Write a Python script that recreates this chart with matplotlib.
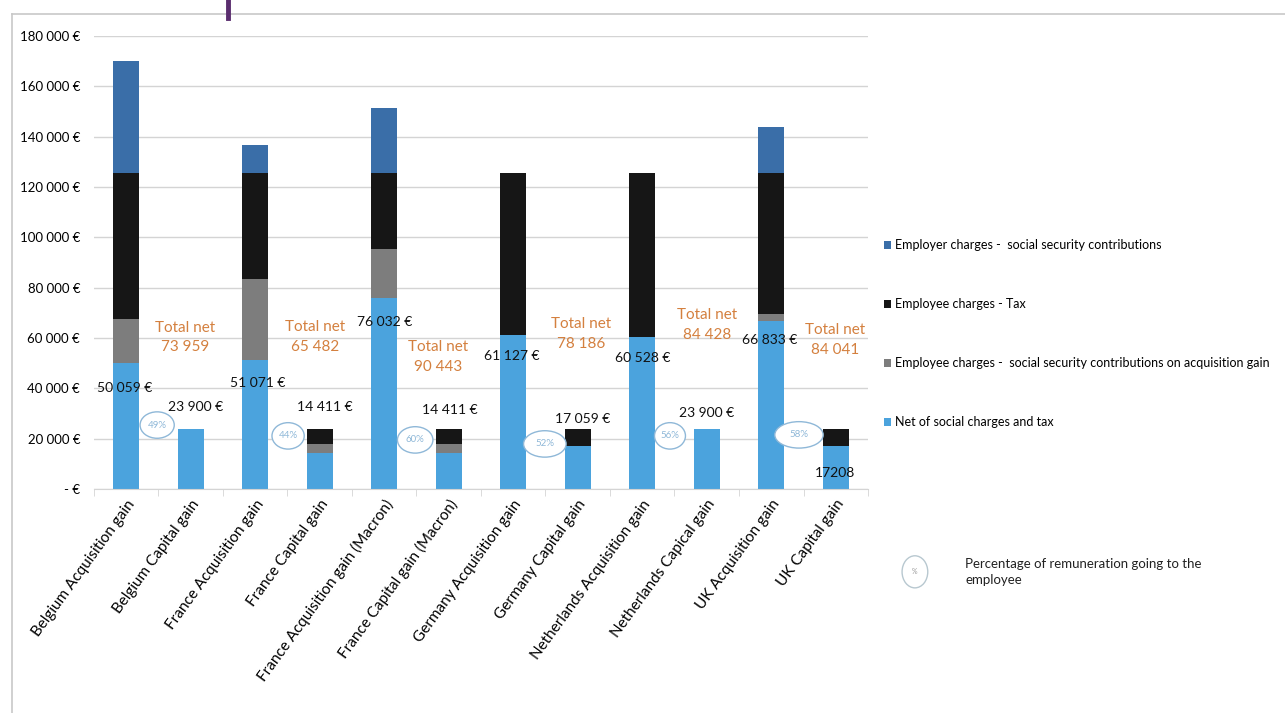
import matplotlib.pyplot as plt
import numpy as np
from matplotlib.patches import Ellipse
from matplotlib.lines import Line2D
from matplotlib.ticker import FuncFormatter, FixedLocator

plt.rcParams['font.family'] = ['Lato', 'DejaVu Sans']

# Données
categories = [
    "Belgium Acquisition gain", "Belgium Capital gain",
    "France Acquisition gain", "France Capital gain",
    "France Acquisition gain (Macron)", "France Capital gain (Macron)",
    "Germany Acquisition gain", "Germany Capital gain",
    "Netherlands Acquisition gain", "Netherlands Capical gain",
    "UK Acquisition gain", "UK Capital gain",
]
net = [50059, 23900, 51071, 14411, 76032, 14411,
       61127, 17059, 60528, 23900, 66833, 17208]
employee_social = [17500, 0, 32400, 3500, 19300, 3500,
                   0, 0, 0, 0, 2500, 0]
employee_tax = [57900, 0, 42000, 5989, 30100, 5989,
                64300, 6841, 64900, 0, 56100, 6692]
employer_social = [44500, 0, 11300, 0, 25800, 0,
                   0, 0, 0, 0, 18300, 0]
net_labels = ["50 059 €", "23 900 €", "51 071 €", "14 411 €", "76 032 €",
              "14 411 €", "61 127 €", "17 059 €", "60 528 €", "23 900 €",
              "66 833 €", "17208"]
total_net = ["73 959", "65 482", "90 443", "78 186", "84 428", "84 041"]
percents = ["49%", "44%", "60%", "52%", "56%", "58%"]

# Positions des annotations (unités des données)
net_label_pos = [(-0.02, 40100), (1.08, 32600), (2.04, 42100), (3.08, 32600),
                 (4.0, 66300), (5.02, 31400), (5.98, 52800), (7.07, 27800),
                 (8.0, 52000), (8.99, 30200), (9.98, 59200), (10.99, 6400)]
total_pos = [(0.92, 60200), (2.93, 60400), (4.83, 52400),
             (7.05, 61600), (9.0, 65100), (10.99, 59200)]
pct_pos = [(0.48, 25400, 0.53), (2.51, 21100, 0.5), (4.48, 19500, 0.55),
           (6.49, 17900, 0.66), (8.43, 21100, 0.48), (10.43, 21500, 0.75)]

c_net = "#4ba3dd"
c_gray = "#7d7d7d"
c_tax = "#161616"
c_employer = "#3a6ea8"
c_orange = "#d4803f"
c_pct = "#8fb8d8"

fig = plt.figure(figsize=(12.85, 7.13), dpi=100)
ax = fig.add_axes([0.0731, 0.3142, 0.6024, 0.6353])

x = np.arange(len(categories))
w = 0.4
b1 = np.array(net)
b2 = b1 + np.array(employee_social)
b3 = b2 + np.array(employee_tax)

ax.bar(x, net, w, color=c_net, label="Net of social charges and tax", zorder=2)
ax.bar(x, employee_social, w, bottom=b1, color=c_gray,
       label="Employee charges -  social security contributions on acquisition gain", zorder=2)
ax.bar(x, employee_tax, w, bottom=b2, color=c_tax,
       label="Employee charges - Tax", zorder=2)
ax.bar(x, employer_social, w, bottom=b3, color=c_employer,
       label="Employer charges -  social security contributions", zorder=2)

ax.set_xlim(-0.5, len(categories) - 0.5)
ax.set_ylim(0, 180000)
ax.set_yticks(np.arange(0, 180001, 20000))
ax.yaxis.set_major_formatter(FuncFormatter(
    lambda v, p: "- €" if v == 0 else f"{int(v):,} €".replace(",", " ")))
ax.grid(axis="y", color="#d4d4d4", linewidth=1, zorder=0)
for s in ["top", "right", "left"]:
    ax.spines[s].set_visible(False)
ax.spines["bottom"].set_color("#d4d4d4")
ax.tick_params(axis="y", length=0, labelsize=9.5, pad=10)
ax.set_xticks(x)
ax.set_xticklabels(categories, rotation=54, ha="right", rotation_mode="anchor",
                   fontsize=11)
ax.tick_params(axis="x", length=0, pad=6)
ax.xaxis.set_minor_locator(FixedLocator(np.arange(-0.5, len(categories), 1)))
ax.tick_params(axis="x", which="minor", length=5, color="#d4d4d4")

for (px, py), t in zip(net_label_pos, net_labels):
    ax.text(px, py, t, ha="center", va="center", fontsize=10, color="#111111", zorder=4)

for (px, py), t in zip(total_pos, total_net):
    ax.text(px, py, "Total net\n" + t, ha="center", va="center", fontsize=11,
            color=c_orange, linespacing=1.5, zorder=4)

for (px, py, ew), t in zip(pct_pos, percents):
    ax.add_patch(Ellipse((px, py), ew, 10500, facecolor="white",
                         edgecolor=c_pct, linewidth=1, zorder=3))
    ax.text(px, py, t, ha="center", va="center", fontsize=7, color=c_pct, zorder=4)

handles, labels = ax.get_legend_handles_labels()
leg = fig.legend(handles[::-1], labels[::-1], loc="upper left",
                 bbox_to_anchor=(0.679, 0.68), frameon=False, fontsize=9,
                 handlelength=0.6, handleheight=0.6, handletextpad=0.3,
                 labelspacing=3.75)

# Légende du pourcentage
fig.add_artist(Ellipse((0.712, 0.198), 0.02, 0.045, transform=fig.transFigure,
                       facecolor="white", edgecolor="#b8c8d0", linewidth=1))
fig.text(0.712, 0.198, "%", ha="center", va="center", fontsize=5, color="#999999")
fig.text(0.751, 0.198, "Percentage of remuneration going to the\nemployee",
         ha="left", va="center", fontsize=9.5, color="#222222", linespacing=1.4)

# Cadre et marque en haut
fig.add_artist(Line2D([0.0093, 0.0093], [0, 0.98], transform=fig.transFigure,
                      color="#c8c8c8", linewidth=1.2))
fig.add_artist(Line2D([0.0093, 1.0], [0.98, 0.98], transform=fig.transFigure,
                      color="#c8c8c8", linewidth=1.2))
fig.add_artist(Line2D([0.1775, 0.1775], [0.975, 1.0], transform=fig.transFigure,
                      color="#5a2d6e", linewidth=3.5))

fig.savefig("out.png", dpi=100)
